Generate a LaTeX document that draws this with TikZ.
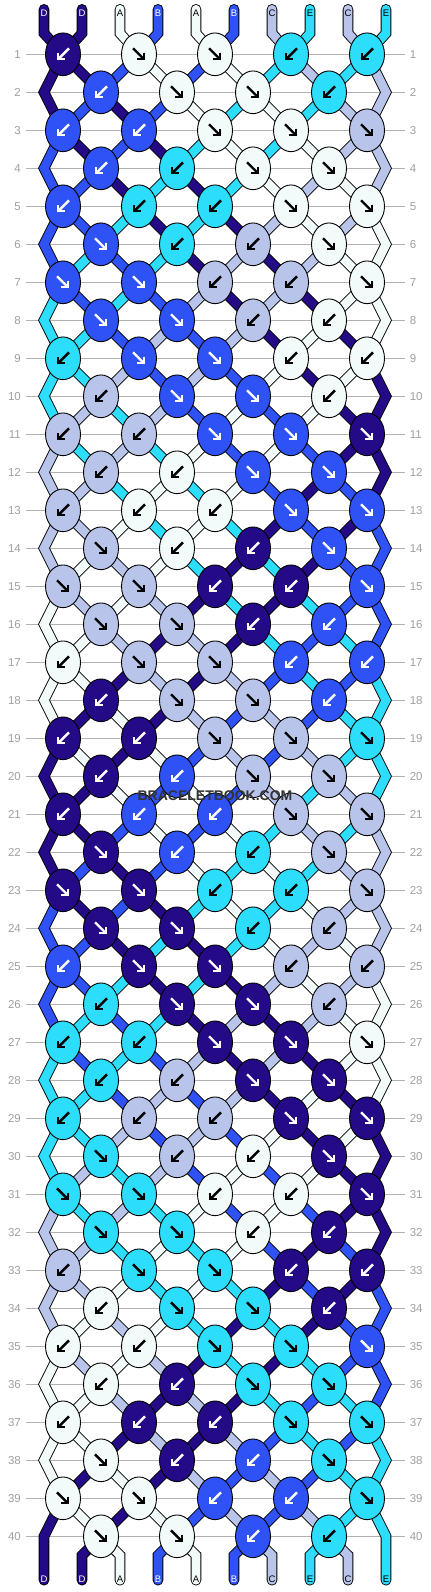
\documentclass[tikz,border=0pt]{standalone}
\usepackage{fontspec}
\setmainfont{Liberation Sans}
\usetikzlibrary{arrows.meta,shapes.geometric}

\definecolor{colD}{HTML}{250A87}
\definecolor{colA}{HTML}{F3FAFA}
\definecolor{colB}{HTML}{2E52F6}
\definecolor{colC}{HTML}{B8C4EA}
\definecolor{colE}{HTML}{2CDDFC}
\colorlet{arrD}{white}
\colorlet{arrA}{black}
\colorlet{arrB}{white}
\colorlet{arrC}{black}
\colorlet{arrE}{black}

\expandafter\def\csname pat1\endcsname{B,F,F,B,B}
\expandafter\def\csname pat2\endcsname{B,F,F,B}
\expandafter\def\csname pat3\endcsname{B,B,F,F,F}
\expandafter\def\csname pat4\endcsname{B,B,F,F}
\expandafter\def\csname pat5\endcsname{B,B,B,F,F}
\expandafter\def\csname pat6\endcsname{F,B,B,F}
\expandafter\def\csname pat7\endcsname{F,F,B,B,F}
\expandafter\def\csname pat8\endcsname{F,F,B,B}

\pgfdeclarelayer{back}
\pgfdeclarelayer{threads}
\pgfsetlayers{back,threads,main}

\begin{document}
\begin{tikzpicture}[x=38pt, y=-38pt,
    rowline/.style={draw=gray!60, line width=0.9pt},
    rownum/.style={text=gray!75, font=\fontsize{11.5}{12}\selectfont, inner sep=0pt},
    strlabel/.style={font=\fontsize{9.5}{10}\selectfont, inner sep=0pt},
    thread/.style={draw=black, line width=0.9pt, double=#1, double distance=8.8pt, line cap=round},
    knot/.style={ellipse, draw=black, line width=0.9pt, minimum width=35pt, minimum height=42.7pt, inner sep=0pt},
    knotarrow/.style={line width=2.4pt, -{Straight Barb[angle=90:6.5pt]}},
    brand/.style={font=\bfseries\fontsize{14}{14}\selectfont, text=black!80}]

    \useasboundingbox (-0.158,-0.429) rectangle (11.158,41.466);

    \begin{pgfonlayer}{back}
    \foreach \row in {1,...,40} {
        \node[rownum, anchor=east] (numl\row) at (0.395,\row) {\row};
        \node[rownum, anchor=west] (numr\row) at (10.62,\row) {\row};
        \draw[rowline] ([xshift=5pt]numl\row.east) -- ([xshift=-5pt]numr\row.west);
    }
    \end{pgfonlayer}

    \foreach \ltr [count=\idx] in {D,D,A,B,A,B,C,E,C,E} {
        \expandafter\xdef\csname s\idx\endcsname{\ltr}
        \node[strlabel, text=arr\ltr] (top\idx) at (\idx,-0.079) {\ltr};
        \node[strlabel, text=arr\ltr] (bot\idx) at (\idx,41.13) {\ltr};
    }

    \foreach \row in {1,...,40} {
        \pgfmathtruncatemacro\pnum{mod(\row-1,8)+1}
        \pgfmathtruncatemacro\first{2-mod(\row,2)}
        \edef\pat{\csname pat\pnum\endcsname}
        \foreach \way [count=\kn] in \pat {
            \pgfmathtruncatemacro\posL{\first+2*\kn-2}
            \pgfmathtruncatemacro\posR{\posL+1}
            \edef\colL{\csname s\posL\endcsname}
            \edef\colR{\csname s\posR\endcsname}
            \if\way F\let\kc\colL\def\arrfrom{-6pt,6pt}\def\arrto{6pt,-6pt}%
            \else\let\kc\colR\def\arrfrom{6pt,6pt}\def\arrto{-6pt,-6pt}\fi
            \node[knot, fill=col\kc] (k\row-\kn) at (\posL+0.5,\row) {};
            \draw[knotarrow, draw=arr\kc] ([shift={(\arrfrom)}]k\row-\kn.center) -- ([shift={(\arrto)}]k\row-\kn.center);
            \expandafter\xdef\csname s\posL\endcsname{\colR}
            \expandafter\xdef\csname s\posR\endcsname{\colL}
        }
        \ifodd\row\else
            \coordinate (k\row-0) at (1,\row);
            \coordinate (k\row-5) at (10,\row);
        \fi
    }

    \begin{pgfonlayer}{threads}
    \foreach \ltr [count=\idx] in {D,D,A,B,A,B,C,E,C,E} {
        \xdef\pos{\idx}
        \xdef\route{([yshift=4pt]top\idx.center) -- ([yshift=-20pt]top\idx.center)}
        \foreach \row in {1,...,40} {
            \pgfmathtruncatemacro\kn{floor((\pos+mod(\row,2))/2)}
            \xdef\route{\route -- (k\row-\kn.center)}
            \ifodd\row
                \ifodd\pos\relax\def\mv{1}\else\def\mv{-1}\fi
            \else
                \ifodd\pos\relax\def\mv{-1}\else\def\mv{1}\fi
                \ifnum\pos=1 \def\mv{0}\fi
                \ifnum\pos=10 \def\mv{0}\fi
            \fi
            \pgfmathtruncatemacro\np{\pos+\mv}
            \xdef\pos{\np}
        }
        \draw[thread=col\ltr] \route -- ([yshift=24pt]bot\pos.center) -- ([yshift=-1pt]bot\pos.center);
    }
    \end{pgfonlayer}

    \node[brand] (brand) at (5.5,20.5) {BRACELETBOOK.COM};
\end{tikzpicture}
\end{document}
